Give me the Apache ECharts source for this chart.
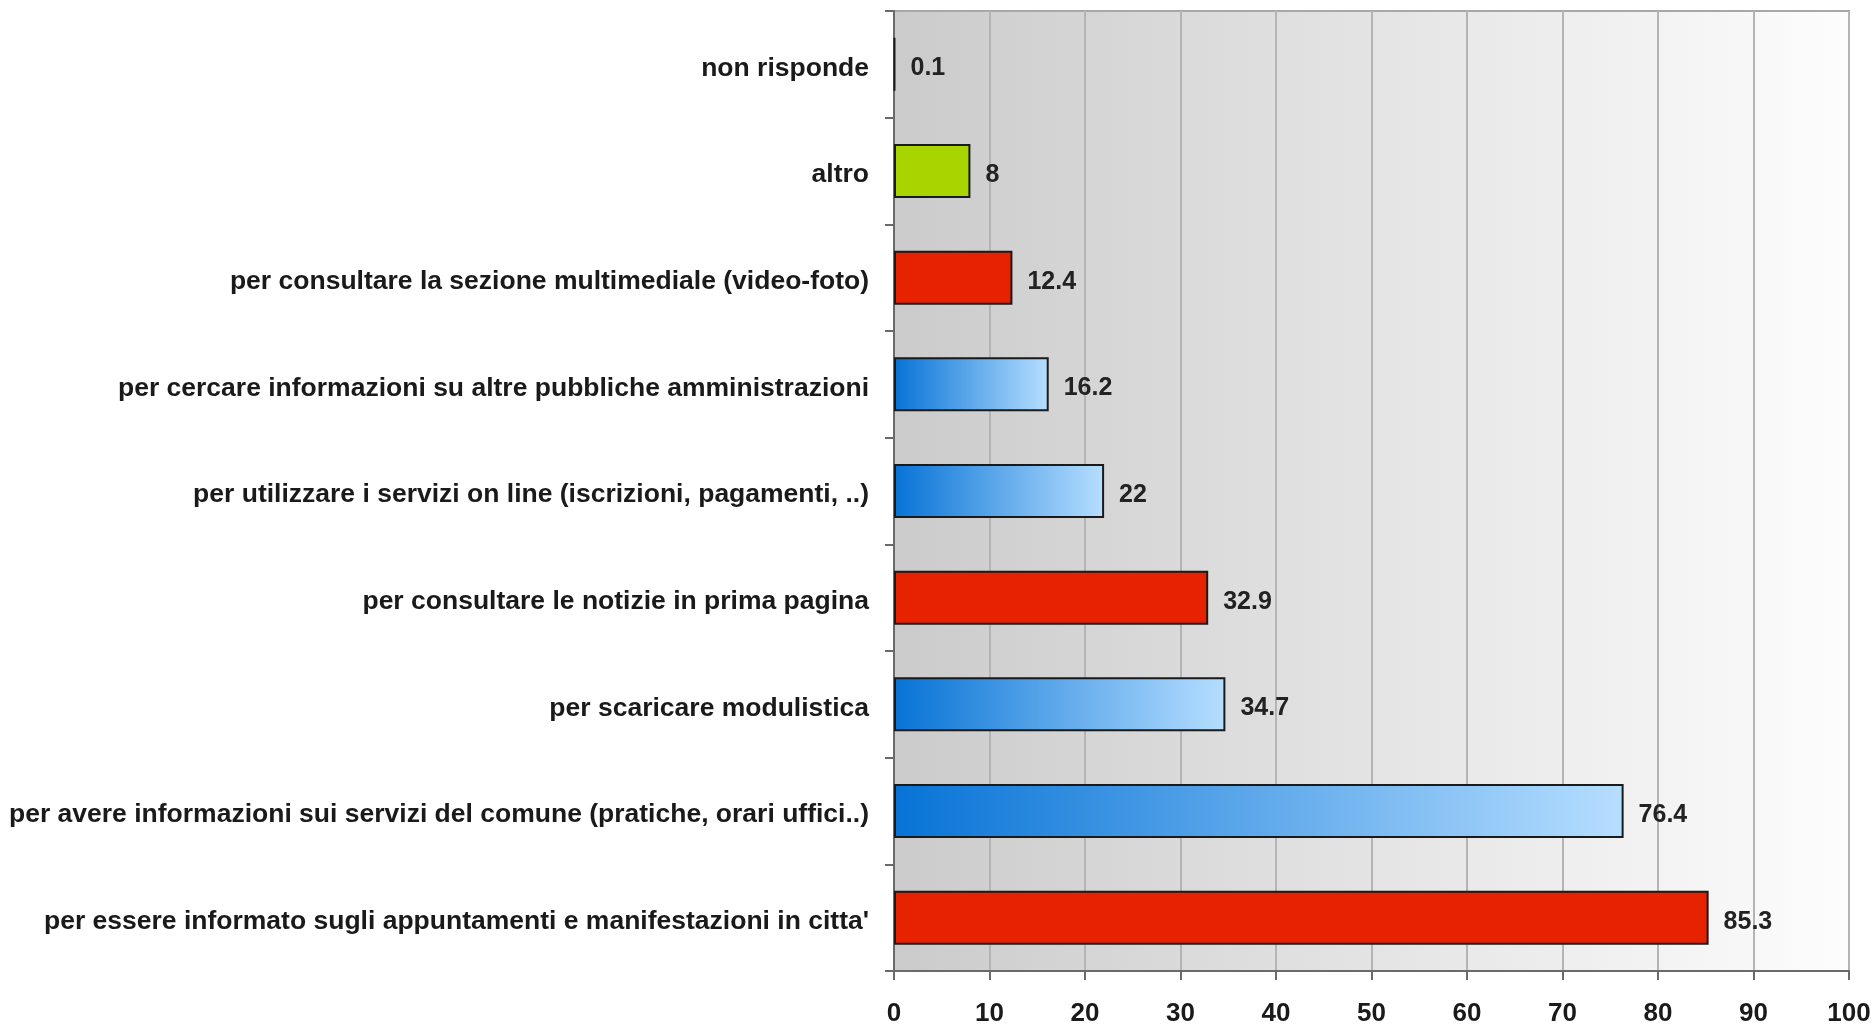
<!DOCTYPE html>
<html>
<head>
<meta charset="utf-8">
<script src="https://cdn.jsdelivr.net/npm/echarts@6/dist/echarts.min.js"></script>
<style>
  html, body { margin: 0; padding: 0; background: #ffffff; }
  #chart { width: 1875px; height: 1027px; }
</style>
</head>
<body>
<div id="chart"></div>
<script>
// Categories listed bottom to top (category axis starts at the bottom)
const categories = [
  "per essere informato sugli appuntamenti e manifestazioni in citta'",
  "per avere informazioni sui servizi del comune (pratiche, orari uffici..)",
  "per scaricare modulistica",
  "per consultare le notizie in prima pagina",
  "per utilizzare i servizi on line (iscrizioni, pagamenti, ..)",
  "per cercare informazioni su altre pubbliche amministrazioni",
  "per consultare la sezione multimediale (video-foto)",
  "altro",
  "non risponde"
];
const values = [85.3, 76.4, 34.7, 32.9, 22, 16.2, 12.4, 8, 0.1];
// Fill style per bar: red, blue (gradient), green, dark
const fillKinds = ["red", "blue", "blue", "red", "blue", "blue", "red", "green", "dark"];
const xTicks = [0, 10, 20, 30, 40, 50, 60, 70, 80, 90, 100];

const fills = {
  red: "#e62200",
  green: "#a8d400",
  dark: "#111111",
  blue: new echarts.graphic.LinearGradient(0, 0, 1, 0, [
    { offset: 0, color: "#0773d6" },
    { offset: 1, color: "#b6deff" }
  ])
};

const chart = echarts.init(document.getElementById("chart"), null, { renderer: "canvas" });

const font = "'Liberation Sans', Arial, sans-serif";

chart.setOption({
  animation: false,
  backgroundColor: "#ffffff",
  grid: {
    left: 894, right: 26, top: 11, bottom: 55,
    show: true,
    backgroundColor: new echarts.graphic.LinearGradient(0, 0, 1, 0, [
      { offset: 0, color: "#cbcbcb" },
      { offset: 1, color: "#fdfdfd" }
    ]),
    borderColor: "#a8a8a8",
    borderWidth: 2
  },
  xAxis: {
    type: "value",
    min: xTicks[0],
    max: xTicks[xTicks.length - 1],
    interval: 10,
    axisLine: { show: true, lineStyle: { color: "#6a6a6a", width: 2 } },
    axisTick: { show: true, length: 9, lineStyle: { color: "#6a6a6a", width: 2 } },
    axisLabel: {
      margin: 30,
      fontFamily: font, fontWeight: "bold", fontSize: 26, color: "#1a1a1a"
    },
    splitLine: { show: true, lineStyle: { color: "#b4b4b4", width: 2 } }
  },
  yAxis: {
    type: "category",
    data: categories,
    axisLine: { show: true, lineStyle: { color: "#6a6a6a", width: 2 } },
    axisTick: { show: true, length: 9, lineStyle: { color: "#6a6a6a", width: 2 } },
    axisLabel: {
      margin: 25,
      formatter: (v) => "{t|" + v + "}",
      rich: {
        t: {
          padding: [8, 0, 0, 0],
          fontFamily: font, fontWeight: "bold", fontSize: 26.5, color: "#1a1a1a"
        }
      }
    }
  },
  series: [{
    type: "bar",
    barWidth: 54,
    data: values.map((v, i) => ({
      value: v,
      itemStyle: { color: fills[fillKinds[i]] }
    })),
    itemStyle: { borderColor: "#1a1a1a", borderWidth: 2 },
    label: {
      show: true,
      position: "right",
      distance: 15,
      offset: [0, 4],
      fontFamily: font, fontWeight: "bold", fontSize: 25, color: "#222222"
    }
  }]
});
</script>
</body>
</html>
